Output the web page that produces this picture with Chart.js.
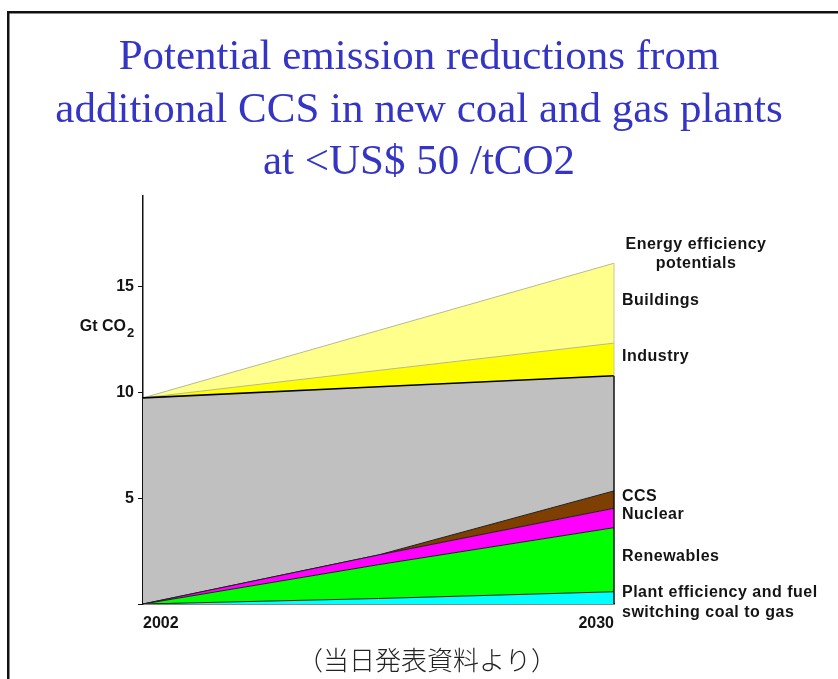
<!DOCTYPE html>
<html>
<head>
<meta charset="utf-8">
<style>
  html, body { margin: 0; padding: 0; background: #fff; }
  #wrap { width: 838px; height: 679px; position: relative; }
</style>
<script src="https://cdn.jsdelivr.net/npm/chart.js@4.4.1/dist/chart.umd.min.js"></script>
</head>
<body>
<div id="wrap"><canvas id="chart" width="838" height="679"></canvas></div>
<script>
// Years on the horizontal axis (points where each layer is given)
const years = [2002, 2016, 2030];
const yearTicks = [2002, 2030];
const valueTicks = [0, 5, 10, 15];

// Layer thicknesses, Gt CO2 (stacked bottom to top)
const plantEfficiency = [0, 0.26, 0.58];
const renewables      = [0, 1.60, 3.03];
const nuclear         = [0, 0.46, 0.92];
const ccs             = [0, 0.00, 0.82];
const remaining       = [9.75, 7.96, 5.45];
const industry        = [0, 0.77, 1.54];
const buildings       = [0, 1.89, 3.78];

const titleLines = [
  'Potential emission reductions from',
  'additional CCS in new coal and gas plants',
  'at <US$ 50 /tCO2'
];
const headerLines = ['Energy efficiency', 'potentials'];
const axisUnit = ['Gt CO', '2'];
const caption = '（当日発表資料より）';

const layers = [
  { name: 'Plant efficiency and fuel\nswitching coal to gas', values: plantEfficiency, fill: '#00ffff', line: '#1e1e1e', width: 1, tag: true },
  { name: 'Renewables', values: renewables, fill: '#00ff00', line: '#1e1e1e', width: 1, tag: true },
  { name: 'Nuclear', values: nuclear, fill: '#ff00ff', line: '#1e1e1e', width: 1, tag: true },
  { name: 'CCS', values: ccs, fill: '#7f3f00', line: '#1e1e1e', width: 1, tag: true },
  { name: 'Remaining emissions', values: remaining, fill: '#c0c0c0', line: '#000000', width: 1.6, tag: false },
  { name: 'Industry', values: industry, fill: '#ffff00', line: '#b9b98c', width: 1, tag: true },
  { name: 'Buildings', values: buildings, fill: '#ffff8c', line: '#b9b98c', width: 1, tag: true }
];

const boldFont = { family: '"Liberation Sans", Arial, sans-serif', size: 16, weight: 'bold' };

const sideText = {
  id: 'sideText',
  afterDraw(chart) {
    const ctx = chart.ctx;
    const area = chart.chartArea;
    const yScale = chart.scales.y;
    ctx.save();

    // frame around the slide
    ctx.fillStyle = '#111';
    ctx.fillRect(7, 11, chart.width - 7, 2.5);
    ctx.fillRect(7, 11, 2.5, chart.height - 11);

    // closing edge of the stacked areas at the last year
    const metas = chart.data.datasets.map((d, i) => chart.getDatasetMeta(i));
    const last = metas[0].data.length - 1;
    const xEnd = metas[0].data[last].x;
    const greyTop = metas[4].data[last].y;
    const top = metas[metas.length - 1].data[last].y;
    ctx.lineWidth = 1.5;
    ctx.strokeStyle = '#111';
    ctx.beginPath();
    ctx.moveTo(xEnd, yScale.getPixelForValue(0));
    ctx.lineTo(xEnd, greyTop);
    ctx.stroke();
    ctx.strokeStyle = '#c8c89a';
    ctx.lineWidth = 1;
    ctx.beginPath();
    ctx.moveTo(xEnd, greyTop);
    ctx.lineTo(xEnd, top);
    ctx.stroke();

    // series names beside each layer
    ctx.font = 'bold 16px "Liberation Sans", Arial, sans-serif';
    ctx.letterSpacing = '0.5px';
    ctx.fillStyle = '#141414';
    ctx.textBaseline = 'middle';
    ctx.textAlign = 'left';
    const xText = area.right + 8;
    let prevTop = yScale.getPixelForValue(0);
    layers.forEach((layer, i) => {
      const t = metas[i].data[last].y;
      const mid = (t + prevTop) / 2;
      prevTop = t;
      if (!layer.tag) return;
      const lines = layer.name.split('\n');
      const start = lines.length > 1 ? mid - 5 : mid - 3;
      lines.forEach((s, k) => ctx.fillText(s, xText, start + k * 20));
    });

    // group header above the efficiency layers
    ctx.textAlign = 'center';
    ctx.fillText(headerLines[0], xText + 74, top - 19);
    ctx.fillText(headerLines[1], xText + 74, top);

    // unit label on the value axis
    ctx.letterSpacing = '0px';
    ctx.textAlign = 'right';
    ctx.fillText(axisUnit[0], 126, 327);
    ctx.font = 'bold 13px "Liberation Sans", Arial, sans-serif';
    ctx.textAlign = 'left';
    ctx.fillText(axisUnit[1], 127, 333);

    // source note
    ctx.font = '300 26px "Noto Sans CJK JP", sans-serif';
    ctx.fillStyle = '#222';
    ctx.textAlign = 'center';
    ctx.fillText(caption, 427, 660);
    ctx.restore();
  }
};

new Chart(document.getElementById('chart'), {
  type: 'line',
  data: {
    datasets: layers.map((layer, i) => ({
      label: layer.name,
      data: years.map((yr, k) => ({ x: yr, y: layer.values[k] })),
      backgroundColor: layer.fill,
      borderColor: layer.line,
      borderWidth: layer.width,
      fill: i === 0 ? 'origin' : '-1',
      pointRadius: 0,
      tension: 0
    }))
  },
  options: {
    responsive: false,
    animation: false,
    devicePixelRatio: 1,
    layout: { padding: { left: 0, right: 0, top: 0, bottom: 35 } },
    plugins: {
      legend: { display: false },
      tooltip: { enabled: false },
      title: {
        display: true,
        text: titleLines,
        color: '#3535c5',
        font: { family: '"Liberation Serif", "Times New Roman", serif', size: 43, weight: 'normal', lineHeight: 1.221 },
        padding: { top: 31.5, bottom: 7 }
      }
    },
    scales: {
      x: {
        type: 'linear',
        min: years[0],
        max: years[years.length - 1],
        afterBuildTicks: s => { s.ticks = yearTicks.map(v => ({ value: v })); },
        afterFit: s => { s.height = 40; },
        ticks: {
          align: 'inner', autoSkip: false, maxRotation: 0, padding: 10,
          color: '#141414', font: boldFont,
          callback: v => String(v)
        },
        grid: { display: true, drawOnChartArea: false, drawTicks: false },
        border: { display: true, color: '#111', width: 1.5 }
      },
      y: {
        type: 'linear',
        stacked: true,
        min: 0,
        max: 19.3,
        afterBuildTicks: s => { s.ticks = valueTicks.map(v => ({ value: v })); },
        afterFit: s => { s.width = 143; },
        ticks: {
          padding: 4, color: '#141414', font: boldFont,
          callback: v => (v === 0 ? '' : String(v))
        },
        grid: { display: true, drawOnChartArea: false, tickLength: 5, color: '#111' },
        border: { display: true, color: '#111', width: 1.5 }
      },
      side: {
        axis: 'y',
        type: 'linear',
        position: 'right',
        display: true,
        afterFit: s => { s.width = 224; },
        ticks: { display: false },
        grid: { display: false },
        border: { display: false }
      }
    }
  },
  plugins: [sideText]
});
</script>
</body>
</html>
